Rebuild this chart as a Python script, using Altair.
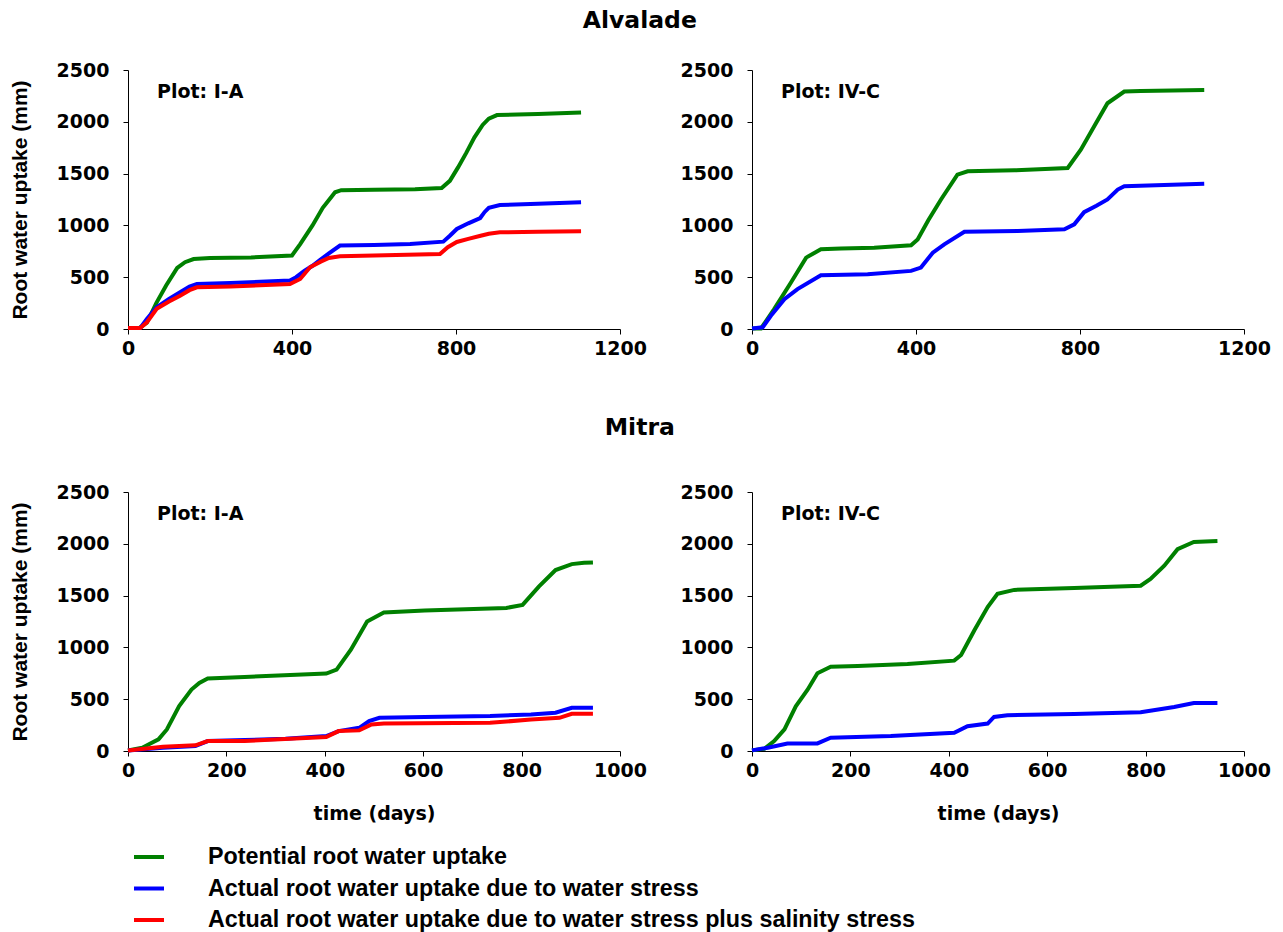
import altair as alt
import pandas as pd

SERIES = [
    "Potential root water uptake",
    "Actual root water uptake due to water stress",
    "Actual root water uptake due to water stress plus salinity stress",
]
COLORS = ["#008000", "#0000FF", "#FF0000"]

# ---- Alvalade, Plot I-A ----
alv_ia_pot_day = [0, 28, 46, 69, 93, 120, 139, 160, 200, 300, 400, 420, 450, 475, 493, 505, 520, 600, 700, 765, 785, 805, 825, 845, 865, 880, 900, 950, 1000, 1105]
alv_ia_pot_val = [10, 10, 60, 250, 420, 590, 645, 675, 685, 690, 710, 820, 1000, 1170, 1260, 1320, 1340, 1345, 1350, 1360, 1430, 1560, 1700, 1850, 1970, 2030, 2065, 2070, 2075, 2090]
alv_ia_ws_day = [0, 30, 46, 70, 100, 127, 150, 168, 250, 395, 410, 430, 450, 468, 490, 517, 600, 688, 769, 785, 802, 830, 859, 870, 880, 907, 1000, 1105]
alv_ia_ws_val = [10, 10, 97, 209, 290, 354, 410, 434, 445, 467, 500, 560, 610, 665, 730, 805, 810, 820, 843, 900, 965, 1020, 1071, 1130, 1170, 1197, 1210, 1223]
alv_ia_ss_day = [0, 30, 46, 70, 100, 127, 150, 168, 250, 395, 420, 444, 470, 490, 517, 600, 761, 780, 802, 830, 860, 880, 907, 1000, 1105]
alv_ia_ss_val = [10, 10, 65, 195, 265, 322, 375, 402, 410, 434, 483, 596, 650, 685, 702, 710, 724, 790, 840, 870, 900, 920, 933, 938, 943]

# ---- Alvalade, Plot IV-C ----
alv_ivc_pot_day = [0, 22, 54, 95, 132, 168, 217, 298, 388, 404, 430, 461, 501, 526, 640, 770, 802, 835, 867, 908, 948, 1103]
alv_ivc_pot_val = [5, 5, 192, 449, 689, 769, 776, 785, 808, 865, 1050, 1250, 1490, 1522, 1532, 1554, 1731, 1960, 2179, 2292, 2298, 2308]
alv_ivc_ws_day = [0, 26, 46, 79, 111, 168, 282, 388, 412, 441, 469, 518, 648, 762, 786, 810, 840, 867, 892, 908, 1103]
alv_ivc_ws_val = [5, 16, 128, 288, 385, 519, 529, 561, 593, 737, 817, 939, 946, 962, 1010, 1128, 1190, 1250, 1346, 1378, 1401]

# ---- Mitra, Plot I-A ----
mit_ia_pot_day = [0, 29, 62, 79, 104, 129, 145, 162, 237, 403, 424, 453, 486, 520, 603, 769, 802, 835, 869, 902, 927, 945]
mit_ia_pot_val = [5, 32, 112, 208, 433, 593, 657, 699, 715, 747, 785, 978, 1250, 1337, 1356, 1381, 1410, 1587, 1747, 1804, 1817, 1820]
mit_ia_ws_day = [0, 71, 137, 162, 237, 320, 403, 428, 470, 490, 511, 603, 736, 819, 869, 902, 945]
mit_ia_ws_val = [5, 32, 48, 96, 106, 119, 144, 192, 224, 288, 320, 327, 337, 353, 369, 417, 417]
mit_ia_ss_day = [0, 71, 137, 162, 237, 403, 428, 470, 495, 520, 736, 819, 877, 902, 945]
mit_ia_ss_val = [5, 42, 55, 96, 96, 135, 192, 199, 256, 266, 272, 304, 320, 359, 360]

# ---- Mitra, Plot IV-C ----
mit_ivc_pot_day = [0, 25, 45, 66, 89, 113, 133, 160, 215, 316, 411, 425, 452, 479, 499, 533, 655, 790, 810, 838, 865, 898, 946]
mit_ivc_pot_val = [6, 22, 96, 208, 431, 591, 750, 814, 820, 840, 872, 926, 1165, 1389, 1517, 1555, 1574, 1596, 1660, 1788, 1948, 2018, 2027]
mit_ivc_ws_day = [0, 32, 72, 133, 160, 282, 411, 438, 479, 492, 519, 655, 790, 858, 898, 946]
mit_ivc_ws_val = [6, 32, 73, 73, 128, 144, 176, 239, 265, 329, 345, 357, 374, 425, 463, 463]

Y_TICKS = [0, 500, 1000, 1500, 2000, 2500]
X_TICKS_TOP = [0, 400, 800, 1200]
X_TICKS_BOTTOM = [0, 200, 400, 600, 800, 1000]


def frame(pairs):
    rows = []
    for s, days, vals in pairs:
        for d, v in zip(days, vals):
            rows.append({"series": SERIES[s], "day": d, "value": v})
    return pd.DataFrame(rows)


TICK_FONT = "DejaVu Sans"


def panel(data, label, xmax, xticks, ytitle, xtitle):
    x_axis = alt.Axis(values=xticks, title=xtitle, labelFlush=False, tickSize=5, format="d",
                      labelPadding=5, titlePadding=24)
    y_axis = alt.Axis(values=Y_TICKS, title=ytitle, tickSize=5, labelPadding=14, format="d",
                      titlePadding=26)
    lines = alt.Chart(data).mark_line(strokeWidth=4).encode(
        x=alt.X("day:Q", scale=alt.Scale(domain=[0, xmax], nice=False, zero=True), axis=x_axis),
        y=alt.Y("value:Q", scale=alt.Scale(domain=[0, 2500], nice=False), axis=y_axis),
        color=alt.Color("series:N", scale=alt.Scale(domain=SERIES, range=COLORS),
                        legend=alt.Legend(title=None, orient="none", legendX=4, legendY=770,
                                          symbolType="stroke", symbolSize=900,
                                          symbolStrokeWidth=4, labelOffset=42,
                                          labelFont="Liberation Sans", labelFontSize=23.3,
                                          labelFontWeight="bold", labelColor="#000",
                                          labelLimit=1000, rowPadding=2.5)),
    )
    txt = alt.Chart(pd.DataFrame({"t": [label]})).mark_text(
        align="left", baseline="middle", font=TICK_FONT, fontSize=19, fontWeight="bold", color="#000"
    ).encode(x=alt.value(29), y=alt.value(22), text="t:N")
    return alt.layer(lines, txt).properties(width=492, height=259)


p1 = panel(frame([(0, alv_ia_pot_day, alv_ia_pot_val), (1, alv_ia_ws_day, alv_ia_ws_val), (2, alv_ia_ss_day, alv_ia_ss_val)]),
           "Plot: I-A", 1200, X_TICKS_TOP, "Root water uptake (mm)", None)
p2 = panel(frame([(0, alv_ivc_pot_day, alv_ivc_pot_val), (1, alv_ivc_ws_day, alv_ivc_ws_val)]),
           "Plot: IV-C", 1200, X_TICKS_TOP, None, None)
p3 = panel(frame([(0, mit_ia_pot_day, mit_ia_pot_val), (1, mit_ia_ws_day, mit_ia_ws_val), (2, mit_ia_ss_day, mit_ia_ss_val)]),
           "Plot: I-A", 1000, X_TICKS_BOTTOM, "Root water uptake (mm)", "time (days)")
p4 = panel(frame([(0, mit_ivc_pot_day, mit_ivc_pot_val), (1, mit_ivc_ws_day, mit_ivc_ws_val)]),
           "Plot: IV-C", 1000, X_TICKS_BOTTOM, None, "time (days)")

row1 = alt.hconcat(p1, p2, spacing=33,
                   title=alt.TitleParams("Alvalade", font=TICK_FONT, fontSize=23.5, fontWeight="bold",
                                         anchor="middle", offset=26, dy=-3, color="#000"))
row2 = alt.hconcat(p3, p4, spacing=33,
                   title=alt.TitleParams("Mitra", font=TICK_FONT, fontSize=23.5, fontWeight="bold",
                                         anchor="middle", offset=44, color="#000"))

chart = alt.vconcat(row1, row2, spacing=57).resolve_scale(color="shared").properties(
    padding={"left": 9, "top": 8, "right": 5, "bottom": 5}
).configure_view(stroke=None).configure_axis(
    grid=False, domainColor="#000", tickColor="#000", domainWidth=1, tickWidth=1,
    labelFont=TICK_FONT, labelFontSize=19, labelFontWeight="bold", labelColor="#000",
    titleFont="Liberation Sans", titleFontSize=21, titleFontWeight="bold", titleColor="#000",
).configure_axisX(titleFont=TICK_FONT, titleFontSize=19)

chart.save("out.html", embed_options={"renderer": "svg", "actions": False})
